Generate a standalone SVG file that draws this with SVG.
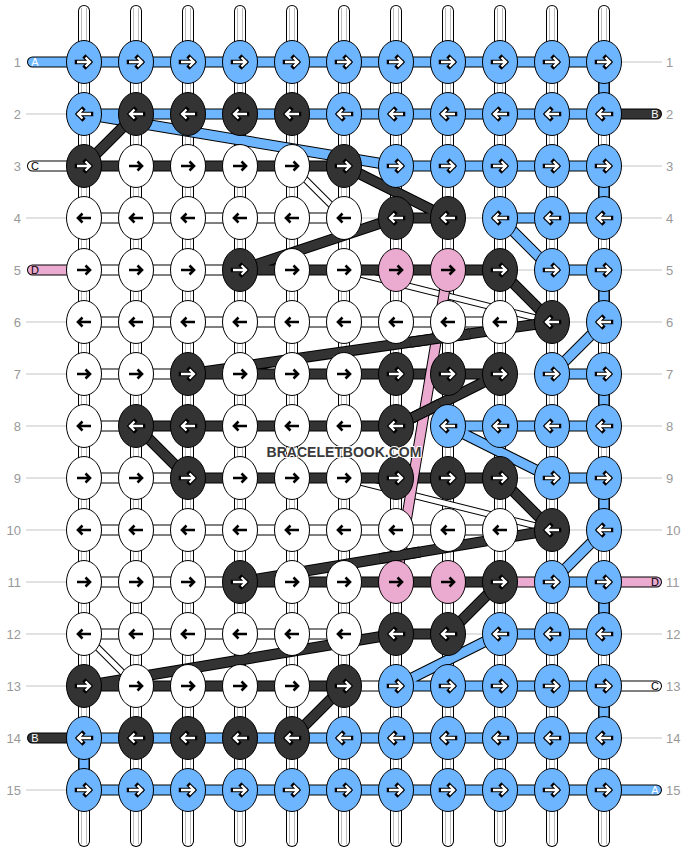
<svg xmlns="http://www.w3.org/2000/svg" xmlns:xlink="http://www.w3.org/1999/xlink" width="688" height="852" viewBox="0 0 688 852">
<style>
.o{fill:none;stroke:#000;stroke-width:11;stroke-linejoin:round}
.fw{fill:none;stroke:#fff;stroke-width:9;stroke-linejoin:round}
.fb{fill:none;stroke:#6db6ff;stroke-width:9;stroke-linejoin:round}
.fd{fill:none;stroke:#333;stroke-width:9;stroke-linejoin:round}
.op{fill:none;stroke:#000;stroke-width:11}
.fp{fill:none;stroke:#ebaad0;stroke-width:9}
.ot{fill:none;stroke:#000;stroke-width:7}
.ft{fill:none;stroke:#fff;stroke-width:5}
.g{fill:none;stroke:#c4c4c4;stroke-width:1}
.rc{stroke-linecap:round}
.n{font-family:"Liberation Sans",Arial,sans-serif;font-size:13px;fill:#999}
.s{font-family:"Liberation Sans",Arial,sans-serif;font-size:11px;text-anchor:middle}
.kb{fill:#6db6ff}.kd{fill:#333}.kw{fill:#fff}.kp{fill:#ebaad0}
.wm{font-family:"Liberation Sans",Arial,sans-serif;font-size:14px;font-weight:bold;fill:#3a3a3a;text-anchor:middle;stroke:#fff;stroke-width:2;paint-order:stroke}
</style>
<defs>
<g id="vs"><line x1="0" y1="11" x2="0" y2="841" stroke="#000" stroke-width="12" stroke-linecap="round"/><line x1="0" y1="11" x2="0" y2="841" stroke="#fff" stroke-width="10" stroke-linecap="round"/><path d="M-2.5 8V844M2.5 8V844" stroke="#bbb" stroke-width="1"/></g>
<ellipse id="e" cx="0" cy="0" rx="17.5" ry="21.5" stroke="#000" stroke-width="1"/>
<g id="R" fill="none"><path d="M-7 0H5.5M1.5-4.5L6 0L1.5 4.5" stroke="#000" stroke-width="4.5" stroke-linecap="square"/><path d="M-7 0H5.5M1.5-4.5L6 0L1.5 4.5" stroke="#fff" stroke-width="2.3"/></g>
<g id="L" fill="none"><path d="M7 0H-5.5M-1.5-4.5L-6 0L-1.5 4.5" stroke="#000" stroke-width="4.5" stroke-linecap="square"/><path d="M7 0H-5.5M-1.5-4.5L-6 0L-1.5 4.5" stroke="#fff" stroke-width="2.3"/></g>
<path id="Rk" d="M-7 0H5.5M1.5-4.5L6 0L1.5 4.5" fill="none" stroke="#000" stroke-width="2.6"/>
<path id="Lk" d="M7 0H-5.5M-1.5-4.5L-6 0L-1.5 4.5" fill="none" stroke="#000" stroke-width="2.6"/>
</defs>
<rect width="688" height="852" fill="#fff"/>
<g id="base-strings">
<use href="#vs" x="84"/><use href="#vs" x="136"/><use href="#vs" x="188"/><use href="#vs" x="240"/><use href="#vs" x="292"/><use href="#vs" x="344"/><use href="#vs" x="396"/><use href="#vs" x="448"/><use href="#vs" x="500"/><use href="#vs" x="552"/><use href="#vs" x="604"/>
</g>
<g id="row-labels">
<path class="g" d="M26 114H67M26 218H67M26 322H67M26 374H67M26 426H67M26 478H67M26 530H67M26 582H67M26 634H67M26 686H67M26 790H67M621 62H662M621 166H662M621 218H662M621 270H662M621 322H662M621 374H662M621 426H662M621 478H662M621 530H662M621 634H662M621 738H662"/>
<g class="n" text-anchor="end">
<text x="21" y="66.5">1</text><text x="21" y="118.5">2</text><text x="21" y="170.5">3</text><text x="21" y="222.5">4</text><text x="21" y="274.5">5</text><text x="21" y="326.5">6</text><text x="21" y="378.5">7</text><text x="21" y="430.5">8</text><text x="21" y="482.5">9</text><text x="21" y="534.5">10</text><text x="21" y="586.5">11</text><text x="21" y="638.5">12</text><text x="21" y="690.5">13</text><text x="21" y="742.5">14</text><text x="21" y="794.5">15</text>
</g>
<g class="n">
<text x="666" y="66.5">1</text><text x="666" y="118.5">2</text><text x="666" y="170.5">3</text><text x="666" y="222.5">4</text><text x="666" y="274.5">5</text><text x="666" y="326.5">6</text><text x="666" y="378.5">7</text><text x="666" y="430.5">8</text><text x="666" y="482.5">9</text><text x="666" y="534.5">10</text><text x="666" y="586.5">11</text><text x="666" y="638.5">12</text><text x="666" y="690.5">13</text><text x="666" y="742.5">14</text><text x="666" y="794.5">15</text>
</g>
</g>
<g id="connectors">
<path class="g" d="M344 218H396M448 218H500M500 270H552M552 322H604M500 374H552M500 478H552M552 530H604M448 634H500M344 634H396"/>
<path class="o" d="M84 218H344M84 270H240M84 322H500M84 374H188M84 426H136M84 478H188M84 530H500M84 582H240M84 634H344M344 686H396"/>
<path class="fw" d="M84 218H344M84 270H240M84 322H500M84 374H188M84 426H136M84 478H188M84 530H500M84 582H240M84 634H344M344 686H396"/>
<path class="ot" d="M292 166L344 218M344 270L552 322M344 478L552 530M84 634L136 686"/>
<path class="ft" d="M292 166L344 218M344 270L552 322M344 478L552 530M84 634L136 686"/>
<path class="o" d="M84 62H604V114H84M396 166H604V218H500M552 270H604V322M552 374H604V426H448M552 478H604V530M552 582H604V634H500M396 686H604V738H84V790H604M84 114L396 166M500 218L552 270M604 322L552 374M448 426L552 478M604 530L552 582M500 634L396 686"/>
<path class="fb" d="M84 62H604V114H84M396 166H604V218H500M552 270H604V322M552 374H604V426H448M552 478H604V530M552 582H604V634H500M396 686H604V738H84V790H604M84 114L396 166M500 218L552 270M604 322L552 374M448 426L552 478M604 530L552 582M500 634L396 686"/>
<path class="o" d="M84 166H344M396 218H448M240 270H500M188 374H500M136 426H396M188 478H500M240 582H500M396 634H448M84 686H344M136 114L84 166M344 166L448 218M396 218L240 270M500 270L552 322L188 374M500 374L396 426M136 426L188 478M500 478L552 530L240 582M500 582L448 634M396 634L84 686M344 686L292 738"/>
<path class="fd" d="M84 166H344M396 218H448M240 270H500M188 374H500M136 426H396M188 478H500M240 582H500M396 634H448M84 686H344M136 114L84 166M344 166L448 218M396 218L240 270M500 270L552 322L188 374M500 374L396 426M136 426L188 478M500 478L552 530L240 582M500 582L448 634M396 634L84 686M344 686L292 738"/>
<path class="op" d="M448 270L396 582"/>
<path class="fp" d="M448 270L396 582"/>
<path class="o" d="M470 333.71L410 342.29M440 404L410 419M420 552L380 558.67"/>
<path class="fd" d="M470 333.71L410 342.29M440 404L410 419M420 552L380 558.67"/>
<path class="o" d="M500 582H552"/>
<path d="M500 582H552" fill="none" stroke="#ebaad0" stroke-width="9"/>
</g>
<g id="string-ends">
<path class="o rc" d="M32.5 62H84M32.5 166H84M32.5 270H84M32.5 738H84M604 114H656.5M604 582H656.5M604 686H656.5M604 790H656.5"/>
<path d="M32.5 62H84M604 790H656.5" fill="none" stroke="#6db6ff" stroke-width="9" stroke-linecap="round"/>
<path d="M32.5 166H84M604 686H656.5" fill="none" stroke="#fff" stroke-width="9" stroke-linecap="round"/>
<path d="M32.5 270H84M604 582H656.5" fill="none" stroke="#ebaad0" stroke-width="9" stroke-linecap="round"/>
<path d="M32.5 738H84M604 114H656.5" fill="none" stroke="#333" stroke-width="9" stroke-linecap="round"/>
<text class="s" x="35" y="66" fill="#fff">A</text>
<text class="s" x="35" y="170" fill="#000">C</text>
<text class="s" x="35" y="274" fill="#000">D</text>
<text class="s" x="35" y="742" fill="#fff">B</text>
<text class="s" x="655" y="118" fill="#fff">B</text>
<text class="s" x="655" y="586" fill="#000">D</text>
<text class="s" x="655" y="690" fill="#000">C</text>
<text class="s" x="655" y="794" fill="#fff">A</text>
</g>
<g id="nodes">
<g id="k1-1"><use href="#e" x="84" y="62" class="kb"/><use href="#R" x="84" y="62"/></g>
<g id="k1-2"><use href="#e" x="136" y="62" class="kb"/><use href="#R" x="136" y="62"/></g>
<g id="k1-3"><use href="#e" x="188" y="62" class="kb"/><use href="#R" x="188" y="62"/></g>
<g id="k1-4"><use href="#e" x="240" y="62" class="kb"/><use href="#R" x="240" y="62"/></g>
<g id="k1-5"><use href="#e" x="292" y="62" class="kb"/><use href="#R" x="292" y="62"/></g>
<g id="k1-6"><use href="#e" x="344" y="62" class="kb"/><use href="#R" x="344" y="62"/></g>
<g id="k1-7"><use href="#e" x="396" y="62" class="kb"/><use href="#R" x="396" y="62"/></g>
<g id="k1-8"><use href="#e" x="448" y="62" class="kb"/><use href="#R" x="448" y="62"/></g>
<g id="k1-9"><use href="#e" x="500" y="62" class="kb"/><use href="#R" x="500" y="62"/></g>
<g id="k1-10"><use href="#e" x="552" y="62" class="kb"/><use href="#R" x="552" y="62"/></g>
<g id="k1-11"><use href="#e" x="604" y="62" class="kb"/><use href="#R" x="604" y="62"/></g>
<g id="k2-1"><use href="#e" x="84" y="114" class="kb"/><use href="#L" x="84" y="114"/></g>
<g id="k2-2"><use href="#e" x="136" y="114" class="kd"/><use href="#L" x="136" y="114"/></g>
<g id="k2-3"><use href="#e" x="188" y="114" class="kd"/><use href="#L" x="188" y="114"/></g>
<g id="k2-4"><use href="#e" x="240" y="114" class="kd"/><use href="#L" x="240" y="114"/></g>
<g id="k2-5"><use href="#e" x="292" y="114" class="kd"/><use href="#L" x="292" y="114"/></g>
<g id="k2-6"><use href="#e" x="344" y="114" class="kb"/><use href="#L" x="344" y="114"/></g>
<g id="k2-7"><use href="#e" x="396" y="114" class="kb"/><use href="#L" x="396" y="114"/></g>
<g id="k2-8"><use href="#e" x="448" y="114" class="kb"/><use href="#L" x="448" y="114"/></g>
<g id="k2-9"><use href="#e" x="500" y="114" class="kb"/><use href="#L" x="500" y="114"/></g>
<g id="k2-10"><use href="#e" x="552" y="114" class="kb"/><use href="#L" x="552" y="114"/></g>
<g id="k2-11"><use href="#e" x="604" y="114" class="kb"/><use href="#L" x="604" y="114"/></g>
<g id="k3-1"><use href="#e" x="84" y="166" class="kd"/><use href="#R" x="84" y="166"/></g>
<g id="k3-2"><use href="#e" x="136" y="166" class="kw"/><use href="#Rk" x="136" y="166"/></g>
<g id="k3-3"><use href="#e" x="188" y="166" class="kw"/><use href="#Rk" x="188" y="166"/></g>
<g id="k3-4"><use href="#e" x="240" y="166" class="kw"/><use href="#Rk" x="240" y="166"/></g>
<g id="k3-5"><use href="#e" x="292" y="166" class="kw"/><use href="#Rk" x="292" y="166"/></g>
<g id="k3-6"><use href="#e" x="344" y="166" class="kd"/><use href="#R" x="344" y="166"/></g>
<g id="k3-7"><use href="#e" x="396" y="166" class="kb"/><use href="#R" x="396" y="166"/></g>
<g id="k3-8"><use href="#e" x="448" y="166" class="kb"/><use href="#R" x="448" y="166"/></g>
<g id="k3-9"><use href="#e" x="500" y="166" class="kb"/><use href="#R" x="500" y="166"/></g>
<g id="k3-10"><use href="#e" x="552" y="166" class="kb"/><use href="#R" x="552" y="166"/></g>
<g id="k3-11"><use href="#e" x="604" y="166" class="kb"/><use href="#R" x="604" y="166"/></g>
<g id="k4-1"><use href="#e" x="84" y="218" class="kw"/><use href="#Lk" x="84" y="218"/></g>
<g id="k4-2"><use href="#e" x="136" y="218" class="kw"/><use href="#Lk" x="136" y="218"/></g>
<g id="k4-3"><use href="#e" x="188" y="218" class="kw"/><use href="#Lk" x="188" y="218"/></g>
<g id="k4-4"><use href="#e" x="240" y="218" class="kw"/><use href="#Lk" x="240" y="218"/></g>
<g id="k4-5"><use href="#e" x="292" y="218" class="kw"/><use href="#Lk" x="292" y="218"/></g>
<g id="k4-6"><use href="#e" x="344" y="218" class="kw"/><use href="#Lk" x="344" y="218"/></g>
<g id="k4-7"><use href="#e" x="396" y="218" class="kd"/><use href="#L" x="396" y="218"/></g>
<g id="k4-8"><use href="#e" x="448" y="218" class="kd"/><use href="#L" x="448" y="218"/></g>
<g id="k4-9"><use href="#e" x="500" y="218" class="kb"/><use href="#L" x="500" y="218"/></g>
<g id="k4-10"><use href="#e" x="552" y="218" class="kb"/><use href="#L" x="552" y="218"/></g>
<g id="k4-11"><use href="#e" x="604" y="218" class="kb"/><use href="#L" x="604" y="218"/></g>
<g id="k5-1"><use href="#e" x="84" y="270" class="kw"/><use href="#Rk" x="84" y="270"/></g>
<g id="k5-2"><use href="#e" x="136" y="270" class="kw"/><use href="#Rk" x="136" y="270"/></g>
<g id="k5-3"><use href="#e" x="188" y="270" class="kw"/><use href="#Rk" x="188" y="270"/></g>
<g id="k5-4"><use href="#e" x="240" y="270" class="kd"/><use href="#R" x="240" y="270"/></g>
<g id="k5-5"><use href="#e" x="292" y="270" class="kw"/><use href="#Rk" x="292" y="270"/></g>
<g id="k5-6"><use href="#e" x="344" y="270" class="kw"/><use href="#Rk" x="344" y="270"/></g>
<g id="k5-7"><use href="#e" x="396" y="270" class="kp"/><use href="#Rk" x="396" y="270"/></g>
<g id="k5-8"><use href="#e" x="448" y="270" class="kp"/><use href="#Rk" x="448" y="270"/></g>
<g id="k5-9"><use href="#e" x="500" y="270" class="kd"/><use href="#R" x="500" y="270"/></g>
<g id="k5-10"><use href="#e" x="552" y="270" class="kb"/><use href="#R" x="552" y="270"/></g>
<g id="k5-11"><use href="#e" x="604" y="270" class="kb"/><use href="#R" x="604" y="270"/></g>
<g id="k6-1"><use href="#e" x="84" y="322" class="kw"/><use href="#Lk" x="84" y="322"/></g>
<g id="k6-2"><use href="#e" x="136" y="322" class="kw"/><use href="#Lk" x="136" y="322"/></g>
<g id="k6-3"><use href="#e" x="188" y="322" class="kw"/><use href="#Lk" x="188" y="322"/></g>
<g id="k6-4"><use href="#e" x="240" y="322" class="kw"/><use href="#Lk" x="240" y="322"/></g>
<g id="k6-5"><use href="#e" x="292" y="322" class="kw"/><use href="#Lk" x="292" y="322"/></g>
<g id="k6-6"><use href="#e" x="344" y="322" class="kw"/><use href="#Lk" x="344" y="322"/></g>
<g id="k6-7"><use href="#e" x="396" y="322" class="kw"/><use href="#Lk" x="396" y="322"/></g>
<g id="k6-8"><use href="#e" x="448" y="322" class="kw"/><use href="#Lk" x="448" y="322"/></g>
<g id="k6-9"><use href="#e" x="500" y="322" class="kw"/><use href="#Lk" x="500" y="322"/></g>
<g id="k6-10"><use href="#e" x="552" y="322" class="kd"/><use href="#L" x="552" y="322"/></g>
<g id="k6-11"><use href="#e" x="604" y="322" class="kb"/><use href="#L" x="604" y="322"/></g>
<g id="k7-1"><use href="#e" x="84" y="374" class="kw"/><use href="#Rk" x="84" y="374"/></g>
<g id="k7-2"><use href="#e" x="136" y="374" class="kw"/><use href="#Rk" x="136" y="374"/></g>
<g id="k7-3"><use href="#e" x="188" y="374" class="kd"/><use href="#R" x="188" y="374"/></g>
<g id="k7-4"><use href="#e" x="240" y="374" class="kw"/><use href="#Rk" x="240" y="374"/></g>
<g id="k7-5"><use href="#e" x="292" y="374" class="kw"/><use href="#Rk" x="292" y="374"/></g>
<g id="k7-6"><use href="#e" x="344" y="374" class="kw"/><use href="#Rk" x="344" y="374"/></g>
<g id="k7-7"><use href="#e" x="396" y="374" class="kd"/><use href="#R" x="396" y="374"/></g>
<g id="k7-8"><use href="#e" x="448" y="374" class="kd"/><use href="#R" x="448" y="374"/></g>
<g id="k7-9"><use href="#e" x="500" y="374" class="kd"/><use href="#R" x="500" y="374"/></g>
<g id="k7-10"><use href="#e" x="552" y="374" class="kb"/><use href="#R" x="552" y="374"/></g>
<g id="k7-11"><use href="#e" x="604" y="374" class="kb"/><use href="#R" x="604" y="374"/></g>
<g id="k8-1"><use href="#e" x="84" y="426" class="kw"/><use href="#Lk" x="84" y="426"/></g>
<g id="k8-2"><use href="#e" x="136" y="426" class="kd"/><use href="#L" x="136" y="426"/></g>
<g id="k8-3"><use href="#e" x="188" y="426" class="kd"/><use href="#L" x="188" y="426"/></g>
<g id="k8-4"><use href="#e" x="240" y="426" class="kw"/><use href="#Lk" x="240" y="426"/></g>
<g id="k8-5"><use href="#e" x="292" y="426" class="kw"/><use href="#Lk" x="292" y="426"/></g>
<g id="k8-6"><use href="#e" x="344" y="426" class="kw"/><use href="#Lk" x="344" y="426"/></g>
<g id="k8-7"><use href="#e" x="396" y="426" class="kd"/><use href="#L" x="396" y="426"/></g>
<g id="k8-8"><use href="#e" x="448" y="426" class="kb"/><use href="#L" x="448" y="426"/></g>
<g id="k8-9"><use href="#e" x="500" y="426" class="kb"/><use href="#L" x="500" y="426"/></g>
<g id="k8-10"><use href="#e" x="552" y="426" class="kb"/><use href="#L" x="552" y="426"/></g>
<g id="k8-11"><use href="#e" x="604" y="426" class="kb"/><use href="#L" x="604" y="426"/></g>
<g id="k9-1"><use href="#e" x="84" y="478" class="kw"/><use href="#Rk" x="84" y="478"/></g>
<g id="k9-2"><use href="#e" x="136" y="478" class="kw"/><use href="#Rk" x="136" y="478"/></g>
<g id="k9-3"><use href="#e" x="188" y="478" class="kd"/><use href="#R" x="188" y="478"/></g>
<g id="k9-4"><use href="#e" x="240" y="478" class="kw"/><use href="#Rk" x="240" y="478"/></g>
<g id="k9-5"><use href="#e" x="292" y="478" class="kw"/><use href="#Rk" x="292" y="478"/></g>
<g id="k9-6"><use href="#e" x="344" y="478" class="kw"/><use href="#Rk" x="344" y="478"/></g>
<g id="k9-7"><use href="#e" x="396" y="478" class="kd"/><use href="#R" x="396" y="478"/></g>
<g id="k9-8"><use href="#e" x="448" y="478" class="kd"/><use href="#R" x="448" y="478"/></g>
<g id="k9-9"><use href="#e" x="500" y="478" class="kd"/><use href="#R" x="500" y="478"/></g>
<g id="k9-10"><use href="#e" x="552" y="478" class="kb"/><use href="#R" x="552" y="478"/></g>
<g id="k9-11"><use href="#e" x="604" y="478" class="kb"/><use href="#R" x="604" y="478"/></g>
<g id="k10-1"><use href="#e" x="84" y="530" class="kw"/><use href="#Lk" x="84" y="530"/></g>
<g id="k10-2"><use href="#e" x="136" y="530" class="kw"/><use href="#Lk" x="136" y="530"/></g>
<g id="k10-3"><use href="#e" x="188" y="530" class="kw"/><use href="#Lk" x="188" y="530"/></g>
<g id="k10-4"><use href="#e" x="240" y="530" class="kw"/><use href="#Lk" x="240" y="530"/></g>
<g id="k10-5"><use href="#e" x="292" y="530" class="kw"/><use href="#Lk" x="292" y="530"/></g>
<g id="k10-6"><use href="#e" x="344" y="530" class="kw"/><use href="#Lk" x="344" y="530"/></g>
<g id="k10-7"><use href="#e" x="396" y="530" class="kw"/><use href="#Lk" x="396" y="530"/></g>
<g id="k10-8"><use href="#e" x="448" y="530" class="kw"/><use href="#Lk" x="448" y="530"/></g>
<g id="k10-9"><use href="#e" x="500" y="530" class="kw"/><use href="#Lk" x="500" y="530"/></g>
<g id="k10-10"><use href="#e" x="552" y="530" class="kd"/><use href="#L" x="552" y="530"/></g>
<g id="k10-11"><use href="#e" x="604" y="530" class="kb"/><use href="#L" x="604" y="530"/></g>
<g id="k11-1"><use href="#e" x="84" y="582" class="kw"/><use href="#Rk" x="84" y="582"/></g>
<g id="k11-2"><use href="#e" x="136" y="582" class="kw"/><use href="#Rk" x="136" y="582"/></g>
<g id="k11-3"><use href="#e" x="188" y="582" class="kw"/><use href="#Rk" x="188" y="582"/></g>
<g id="k11-4"><use href="#e" x="240" y="582" class="kd"/><use href="#R" x="240" y="582"/></g>
<g id="k11-5"><use href="#e" x="292" y="582" class="kw"/><use href="#Rk" x="292" y="582"/></g>
<g id="k11-6"><use href="#e" x="344" y="582" class="kw"/><use href="#Rk" x="344" y="582"/></g>
<g id="k11-7"><use href="#e" x="396" y="582" class="kp"/><use href="#Rk" x="396" y="582"/></g>
<g id="k11-8"><use href="#e" x="448" y="582" class="kp"/><use href="#Rk" x="448" y="582"/></g>
<g id="k11-9"><use href="#e" x="500" y="582" class="kd"/><use href="#R" x="500" y="582"/></g>
<g id="k11-10"><use href="#e" x="552" y="582" class="kb"/><use href="#R" x="552" y="582"/></g>
<g id="k11-11"><use href="#e" x="604" y="582" class="kb"/><use href="#R" x="604" y="582"/></g>
<g id="k12-1"><use href="#e" x="84" y="634" class="kw"/><use href="#Lk" x="84" y="634"/></g>
<g id="k12-2"><use href="#e" x="136" y="634" class="kw"/><use href="#Lk" x="136" y="634"/></g>
<g id="k12-3"><use href="#e" x="188" y="634" class="kw"/><use href="#Lk" x="188" y="634"/></g>
<g id="k12-4"><use href="#e" x="240" y="634" class="kw"/><use href="#Lk" x="240" y="634"/></g>
<g id="k12-5"><use href="#e" x="292" y="634" class="kw"/><use href="#Lk" x="292" y="634"/></g>
<g id="k12-6"><use href="#e" x="344" y="634" class="kw"/><use href="#Lk" x="344" y="634"/></g>
<g id="k12-7"><use href="#e" x="396" y="634" class="kd"/><use href="#L" x="396" y="634"/></g>
<g id="k12-8"><use href="#e" x="448" y="634" class="kd"/><use href="#L" x="448" y="634"/></g>
<g id="k12-9"><use href="#e" x="500" y="634" class="kb"/><use href="#L" x="500" y="634"/></g>
<g id="k12-10"><use href="#e" x="552" y="634" class="kb"/><use href="#L" x="552" y="634"/></g>
<g id="k12-11"><use href="#e" x="604" y="634" class="kb"/><use href="#L" x="604" y="634"/></g>
<g id="k13-1"><use href="#e" x="84" y="686" class="kd"/><use href="#R" x="84" y="686"/></g>
<g id="k13-2"><use href="#e" x="136" y="686" class="kw"/><use href="#Rk" x="136" y="686"/></g>
<g id="k13-3"><use href="#e" x="188" y="686" class="kw"/><use href="#Rk" x="188" y="686"/></g>
<g id="k13-4"><use href="#e" x="240" y="686" class="kw"/><use href="#Rk" x="240" y="686"/></g>
<g id="k13-5"><use href="#e" x="292" y="686" class="kw"/><use href="#Rk" x="292" y="686"/></g>
<g id="k13-6"><use href="#e" x="344" y="686" class="kd"/><use href="#R" x="344" y="686"/></g>
<g id="k13-7"><use href="#e" x="396" y="686" class="kb"/><use href="#R" x="396" y="686"/></g>
<g id="k13-8"><use href="#e" x="448" y="686" class="kb"/><use href="#R" x="448" y="686"/></g>
<g id="k13-9"><use href="#e" x="500" y="686" class="kb"/><use href="#R" x="500" y="686"/></g>
<g id="k13-10"><use href="#e" x="552" y="686" class="kb"/><use href="#R" x="552" y="686"/></g>
<g id="k13-11"><use href="#e" x="604" y="686" class="kb"/><use href="#R" x="604" y="686"/></g>
<g id="k14-1"><use href="#e" x="84" y="738" class="kb"/><use href="#L" x="84" y="738"/></g>
<g id="k14-2"><use href="#e" x="136" y="738" class="kd"/><use href="#L" x="136" y="738"/></g>
<g id="k14-3"><use href="#e" x="188" y="738" class="kd"/><use href="#L" x="188" y="738"/></g>
<g id="k14-4"><use href="#e" x="240" y="738" class="kd"/><use href="#L" x="240" y="738"/></g>
<g id="k14-5"><use href="#e" x="292" y="738" class="kd"/><use href="#L" x="292" y="738"/></g>
<g id="k14-6"><use href="#e" x="344" y="738" class="kb"/><use href="#L" x="344" y="738"/></g>
<g id="k14-7"><use href="#e" x="396" y="738" class="kb"/><use href="#L" x="396" y="738"/></g>
<g id="k14-8"><use href="#e" x="448" y="738" class="kb"/><use href="#L" x="448" y="738"/></g>
<g id="k14-9"><use href="#e" x="500" y="738" class="kb"/><use href="#L" x="500" y="738"/></g>
<g id="k14-10"><use href="#e" x="552" y="738" class="kb"/><use href="#L" x="552" y="738"/></g>
<g id="k14-11"><use href="#e" x="604" y="738" class="kb"/><use href="#L" x="604" y="738"/></g>
<g id="k15-1"><use href="#e" x="84" y="790" class="kb"/><use href="#R" x="84" y="790"/></g>
<g id="k15-2"><use href="#e" x="136" y="790" class="kb"/><use href="#R" x="136" y="790"/></g>
<g id="k15-3"><use href="#e" x="188" y="790" class="kb"/><use href="#R" x="188" y="790"/></g>
<g id="k15-4"><use href="#e" x="240" y="790" class="kb"/><use href="#R" x="240" y="790"/></g>
<g id="k15-5"><use href="#e" x="292" y="790" class="kb"/><use href="#R" x="292" y="790"/></g>
<g id="k15-6"><use href="#e" x="344" y="790" class="kb"/><use href="#R" x="344" y="790"/></g>
<g id="k15-7"><use href="#e" x="396" y="790" class="kb"/><use href="#R" x="396" y="790"/></g>
<g id="k15-8"><use href="#e" x="448" y="790" class="kb"/><use href="#R" x="448" y="790"/></g>
<g id="k15-9"><use href="#e" x="500" y="790" class="kb"/><use href="#R" x="500" y="790"/></g>
<g id="k15-10"><use href="#e" x="552" y="790" class="kb"/><use href="#R" x="552" y="790"/></g>
<g id="k15-11"><use href="#e" x="604" y="790" class="kb"/><use href="#R" x="604" y="790"/></g>
</g>
<text class="wm" x="344" y="457">BRACELETBOOK.COM</text>
</svg>
